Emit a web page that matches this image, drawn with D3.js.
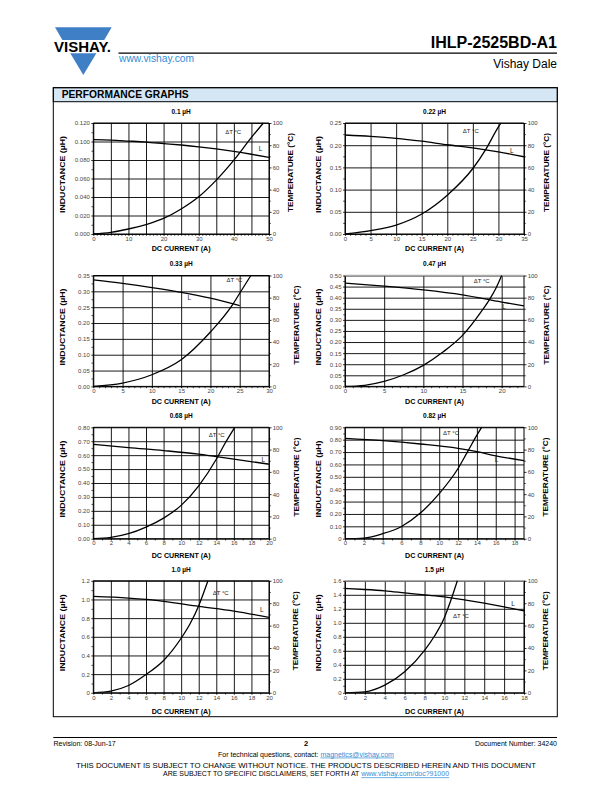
<!DOCTYPE html>
<html><head><meta charset="utf-8">
<script src="https://cdn.jsdelivr.net/npm/d3@7"></script>
<style>
body{margin:0;background:#fff}
svg{display:block}
text{font-family:"Liberation Sans",Arial,Helvetica,sans-serif}
</style>
</head><body>
<svg id="page" width="612" height="792"></svg>
<script>
// ---------------- DATA ----------------
const titles = ["0.1 µH","0.22 µH","0.33 µH","0.47 µH","0.68 µH","0.82 µH","1.0 µH","1.5 µH"];
const xMax = [50,35,30,22.85,20,19,20,18];
const xGridStep = [5,5,5,5,2,2,2,2];
const xTickLabels = [
  [0,10,20,30,40,50],
  [0,5,10,15,20,25,30,35],
  [0,5,10,15,20,25,30],
  [0,5,10,15,20],
  [0,2,4,6,8,10,12,14,16,18,20],
  [0,2,4,6,8,10,12,14,16,18],
  [0,2,4,6,8,10,12,14,16,18,20],
  [0,2,4,6,8,10,12,14,16,18]
];
const yMax = [0.12,0.25,0.35,0.5,0.8,0.9,1.2,1.6];
const yGridStep = [0.02,0.05,0.05,0.05,0.1,0.1,0.2,0.2];
const yTickLabels = [
  ["0.000","0.020","0.040","0.060","0.080","0.100","0.120"],
  ["0.00","0.05","0.10","0.15","0.20","0.25"],
  ["0.00","0.05","0.10","0.15","0.20","0.25","0.30","0.35"],
  ["0.00","0.05","0.10","0.15","0.20","0.25","0.30","0.35","0.40","0.45","0.50"],
  ["0.00","0.10","0.20","0.30","0.40","0.50","0.60","0.70","0.80"],
  ["0","0.10","0.20","0.30","0.40","0.50","0.60","0.70","0.80","0.90"],
  ["0","0.2","0.4","0.6","0.8","1.0","1.2"],
  ["0","0.2","0.4","0.6","0.8","1.0","1.2","1.4","1.6"]
];
const tempTicks = [0,20,40,60,80,100];
const tempTickLabels = ["0","20","40","60","80","100"];

// inductance curves (current A, inductance µH)
const currentL = [
  [0,5,10,15,20,25,30,35,40,45,50],
  [0,5,10,15,20,25,30,35],
  [0,5,10,15,20,25],
  [0,5,10,15,20,22.85],
  [0,4,8,12,14,16,20],
  [0,4,8,12,14,16,19],
  [0,4,6,8,12,16,20],
  [0,2,4,6,8,10,12,14,16,18]
];
const inductance = [
  [0.102,0.1015,0.1005,0.0994,0.0978,0.0962,0.0943,0.0920,0.0893,0.0862,0.0828],
  [0.223,0.220,0.2156,0.209,0.201,0.194,0.185,0.174],
  [0.336,0.325,0.312,0.297,0.2785,0.255],
  [0.4655,0.452,0.4354,0.413,0.380,0.363],
  [0.678,0.654,0.633,0.607,0.589,0.572,0.535],
  [0.811,0.792,0.765,0.730,0.703,0.670,0.630],
  [1.033,1.015,1.000,0.979,0.926,0.876,0.808],
  [1.490,1.476,1.457,1.428,1.399,1.371,1.328,1.280,1.227,1.170]
];
// temperature rise curves (current A, ΔT °C)
const currentT = [
  [0,5,10,15,20,25,30,35,40,45,48.4],
  [0,5,10,15,20,25,27.5,30,30.5],
  [0,5,10,15,20,23.7,25,26.9],
  [0,2.5,5,7.5,10,12.5,15,17.5,18.5,19.3,20],
  [0,2,4,6,8,10,12,14,15,16.1],
  [0,2,4,6,8,10,12,13,14,14.5],
  [0,2,4,6,8,10,11,12,12.5,13.05],
  [0,2,4,6,8,9,10,10.5,11,11.3]
];
const deltaT = [
  [0,1.5,4.5,8.5,14,22.5,33.5,48.5,66.5,87,100],
  [0,3,8,18,35,59,76,96.5,100],
  [0,3,10.5,24,49,73,84,100],
  [0,1,4.5,10.5,19,31,46,68.5,79,89,100],
  [0,1.2,4.5,10.4,18.5,29.9,47.5,71.3,85.7,100],
  [0,0.6,4.5,11,23,40.5,63,78,93,100],
  [0,1.5,6.5,16.3,28.8,48.7,61.4,77.7,88,100],
  [0,0.9,6.9,18.8,37.9,50.7,67.2,79,92,100]
];
// curve label anchors (current A, °C on right axis)
const labelLAt = [[47.6,76.8],[32.6,74.8],[16.4,80.2],[20.3,71.4],[19.35,70.7],[16.1,70.5],[19.17,73.9],[16.9,79.7]];
const labelTAt = [[39.8,92.4],[24.6,92.8],[24.1,96.1],[17.45,95.5],[14.05,92.8],[11.25,94.6],[14.5,89.6],[11.66,68.6]];

// ---------------- LAYOUT ----------------
const colL=[93.3,345], colR=[269,524];
const rowT=[123,275.5,427.3,580.8], rowB=[234,386.4,538.7,692.8];
const xTitleY=[248.5,401,555.5,711];
const leftTitleX=[62.7,318];
const rightTitleX=[290.7,546.7,296.7,546.7,296.7,545.7,295.5,545.7];
const grayTop=[false,false,false,true,false,false,false,true];

const svg=d3.select("#page");

// ---------------- HEADER ----------------
const blue="#3f7fc6";
svg.append("polygon").attr("fill",blue)
  .attr("points","55,27.3 111.7,27.3 104.2,40 62.4,40");
svg.append("polygon").attr("fill",blue)
  .attr("points","70.3,53.3 96.4,53.3 83.3,75");
svg.append("text").attr("x",54).attr("y",51.9)
  .attr("font-size",14.5).attr("font-weight",900).attr("fill","#000")
  .attr("textLength",57).attr("lengthAdjust","spacingAndGlyphs").text("VISHAY.");
svg.append("text").attr("x",119).attr("y",61.7).attr("font-size",10)
  .attr("fill","#2f8ed6").attr("textLength",75).attr("lengthAdjust","spacingAndGlyphs").text("www.vishay.com");
svg.append("line").attr("x1",118.5).attr("x2",557).attr("y1",53.2).attr("y2",53.2)
  .attr("stroke","#000").attr("stroke-width",1.2);
svg.append("text").attr("x",557).attr("y",47.7).attr("text-anchor","end")
  .attr("font-size",16).attr("font-weight",700).text("IHLP-2525BD-A1");
svg.append("text").attr("x",557).attr("y",68.3).attr("text-anchor","end")
  .attr("font-size",12).text("Vishay Dale");

// Panel box
svg.append("rect").attr("x",53.3).attr("y",87.7).attr("width",504).attr("height",14)
  .attr("fill","#d5e7f5").attr("stroke","#000").attr("stroke-width",1);
svg.append("rect").attr("x",53.3).attr("y",87.7).attr("width",504).attr("height",629)
  .attr("fill","none").attr("stroke","#000").attr("stroke-width",1);
svg.append("text").attr("x",61.7).attr("y",98).attr("font-size",10).attr("font-weight",900)
  .attr("textLength",127).attr("lengthAdjust","spacingAndGlyphs").text("PERFORMANCE GRAPHS");

// ---------------- CHARTS ----------------
titles.forEach((title,i)=>{
  const col=i%2,row=Math.floor(i/2);
  const x0=colL[col],x1=colR[col],y0=rowT[row],y1=rowB[row];
  const x=d3.scaleLinear().domain([0,xMax[i]]).range([x0,x1]);
  const y=d3.scaleLinear().domain([0,yMax[i]]).range([y1,y0]);
  const t=d3.scaleLinear().domain([0,100]).range([y1,y0]);
  const g=svg.append("g");
  const w=x1-x0,h=y1-y0;

  const xGrid=d3.range(0,xMax[i]+1e-9,xGridStep[i]);
  const yVals=yTickLabels[i].map((d,j)=>j*yGridStep[i]);

  // grid lines
  g.append("g").attr("transform",`translate(0,${y1})`)
    .call(d3.axisBottom(x).tickValues(xGrid).tickSize(-h).tickFormat(""))
    .call(a=>{a.select(".domain").remove();a.selectAll("line").attr("stroke","#000").attr("stroke-width",0.9);});
  g.append("g").attr("transform",`translate(${x0},0)`)
    .call(d3.axisLeft(y).tickValues(yVals).tickSize(-w).tickFormat(""))
    .call(a=>{a.select(".domain").remove();a.selectAll("line").attr("stroke","#000").attr("stroke-width",0.9);});

  // minor ticks
  const xMinor=d3.range(0,xMax[i]+1e-9,1);
  g.append("g").attr("transform",`translate(0,${y1})`)
    .call(d3.axisBottom(x).tickValues(xMinor).tickSize(1.8).tickFormat(""))
    .call(a=>{a.select(".domain").remove();a.selectAll("line").attr("stroke","#000").attr("stroke-width",0.7);});
  const yMinor=d3.range(0,yTickLabels[i].length-1).map(j=>(j+0.5)*yGridStep[i]);
  g.append("g").attr("transform",`translate(${x0},0)`)
    .call(d3.axisLeft(y).tickValues(yMinor).tickSize(1.8).tickFormat(""))
    .call(a=>{a.select(".domain").remove();a.selectAll("line").attr("stroke","#000").attr("stroke-width",0.7);});
  g.append("g").attr("transform",`translate(${x1},0)`)
    .call(d3.axisRight(t).tickValues([10,30,50,70,90]).tickSize(1.8).tickFormat(""))
    .call(a=>{a.select(".domain").remove();a.selectAll("line").attr("stroke","#000").attr("stroke-width",0.7);});

  // labelled axes
  const styleAx=a=>{a.select(".domain").remove();
    a.selectAll("line").attr("stroke","#000").attr("stroke-width",0.8);
    a.selectAll("text").attr("font-size",6).attr("fill","#444").attr("font-family","Liberation Sans, Arial, sans-serif");};
  g.append("g").attr("transform",`translate(0,${y1})`)
    .call(d3.axisBottom(x).tickValues(xTickLabels[i]).tickSize(1.5).tickPadding(1).tickFormat(d3.format("d")))
    .call(styleAx);
  g.append("g").attr("transform",`translate(${x0},0)`)
    .call(d3.axisLeft(y).tickValues(yVals).tickSize(2).tickPadding(1.5).tickFormat((d,j)=>yTickLabels[i][j]))
    .call(styleAx);
  g.append("g").attr("transform",`translate(${x1},0)`)
    .call(d3.axisRight(t).tickValues(tempTicks).tickSize(2.5).tickPadding(1.2).tickFormat((d,j)=>tempTickLabels[j]))
    .call(styleAx);

  // frame
  g.append("line").attr("x1",x0).attr("x2",x1).attr("y1",y1).attr("y2",y1).attr("stroke","#000").attr("stroke-width",1);
  g.append("line").attr("x1",x0).attr("x2",x0).attr("y1",y0).attr("y2",y1).attr("stroke","#000").attr("stroke-width",1);
  g.append("line").attr("x1",x1).attr("x2",x1).attr("y1",y0).attr("y2",y1).attr("stroke","#000").attr("stroke-width",1);
  g.append("line").attr("x1",x0).attr("x2",x1).attr("y1",y0).attr("y2",y0)
    .attr("stroke",grayTop[i]?"#aaa":"#000").attr("stroke-width",grayTop[i]?1.4:1);

  // clip
  const cid="clip"+i;
  svg.append("clipPath").attr("id",cid).append("rect").attr("x",x0).attr("y",y0-1).attr("width",w).attr("height",h+1);

  // curves
  const Lpts=currentL[i].map((c,j)=>[c,inductance[i][j]]);
  const Tpts=currentT[i].map((c,j)=>[c,deltaT[i][j]]);
  g.append("path").attr("clip-path",`url(#${cid})`)
    .attr("d",d3.line().x(d=>x(d[0])).y(d=>y(d[1])).curve(d3.curveMonotoneX)(Lpts))
    .attr("fill","none").attr("stroke","#000").attr("stroke-width",1.3);
  g.append("path").attr("clip-path",`url(#${cid})`)
    .attr("d",d3.line().x(d=>x(d[0])).y(d=>t(d[1])).curve(d3.curveMonotoneX)(Tpts))
    .attr("fill","none").attr("stroke","#000").attr("stroke-width",1.3);

  // curve labels
  g.append("text").attr("x",x(labelLAt[i][0])).attr("y",t(labelLAt[i][1])+2.1)
    .attr("text-anchor","middle").attr("font-size",6.5).attr("fill","#222").text("L");
  g.append("text").attr("x",x(labelTAt[i][0])).attr("y",t(labelTAt[i][1])+2.1)
    .attr("text-anchor","middle").attr("font-size",6).attr("fill","#222").text("ΔT °C");

  // titles
  g.append("text").attr("x",(x0+x1)/2).attr("y",y0-9.3).attr("text-anchor","middle")
    .attr("font-size",6.5).attr("font-weight",700).text(title);
  g.append("text").attr("x",(x0+x1)/2).attr("y",xTitleY[row]+2.6).attr("text-anchor","middle")
    .attr("font-size",7.3).attr("font-weight",700)
    .attr("textLength",59).attr("lengthAdjust","spacingAndGlyphs").text("DC CURRENT (A)");
  const my=(y0+y1)/2;
  g.append("text").attr("transform",`translate(${leftTitleX[col]+2.6},${my-4}) rotate(-90)`)
    .attr("text-anchor","middle").attr("font-size",7.3).attr("font-weight",700)
    .attr("textLength",77).attr("lengthAdjust","spacingAndGlyphs").text("INDUCTANCE (µH)");
  g.append("text").attr("transform",`translate(${rightTitleX[i]+2.6},${my-6}) rotate(-90)`)
    .attr("text-anchor","middle").attr("font-size",7.3).attr("font-weight",700)
    .attr("textLength",79).attr("lengthAdjust","spacingAndGlyphs").text("TEMPERATURE (°C)");
});

// ---------------- FOOTER ----------------
svg.append("line").attr("x1",53.3).attr("x2",557).attr("y1",737.5).attr("y2",737.5)
  .attr("stroke","#000").attr("stroke-width",1.2);
svg.append("text").attr("x",53.5).attr("y",745.6).attr("font-size",7).text("Revision: 08-Jun-17");
svg.append("text").attr("x",306).attr("y",746.3).attr("font-size",7.5).attr("font-weight",700)
  .attr("text-anchor","middle").text("2");
svg.append("text").attr("x",557).attr("y",745.6).attr("font-size",7).attr("text-anchor","end")
  .text("Document Number: 34240");
const f1=svg.append("text").attr("x",306).attr("y",756.6).attr("font-size",7).attr("text-anchor","middle");
f1.append("tspan").text("For technical questions, contact: ");
f1.append("tspan").attr("fill","#2f8ed6").attr("text-decoration","underline").text("magnetics@vishay.com");
svg.append("text").attr("x",306).attr("y",768).attr("font-size",7).attr("text-anchor","middle")
  .attr("textLength",460).attr("lengthAdjust","spacingAndGlyphs")
  .text("THIS DOCUMENT IS SUBJECT TO CHANGE WITHOUT NOTICE. THE PRODUCTS DESCRIBED HEREIN AND THIS DOCUMENT");
const f2=svg.append("text").attr("x",306).attr("y",776.4).attr("font-size",7).attr("text-anchor","middle");
f2.append("tspan").text("ARE SUBJECT TO SPECIFIC DISCLAIMERS, SET FORTH AT ");
f2.append("tspan").attr("fill","#2f8ed6").attr("text-decoration","underline").text("www.vishay.com/doc?91000");
</script>
</body></html>
